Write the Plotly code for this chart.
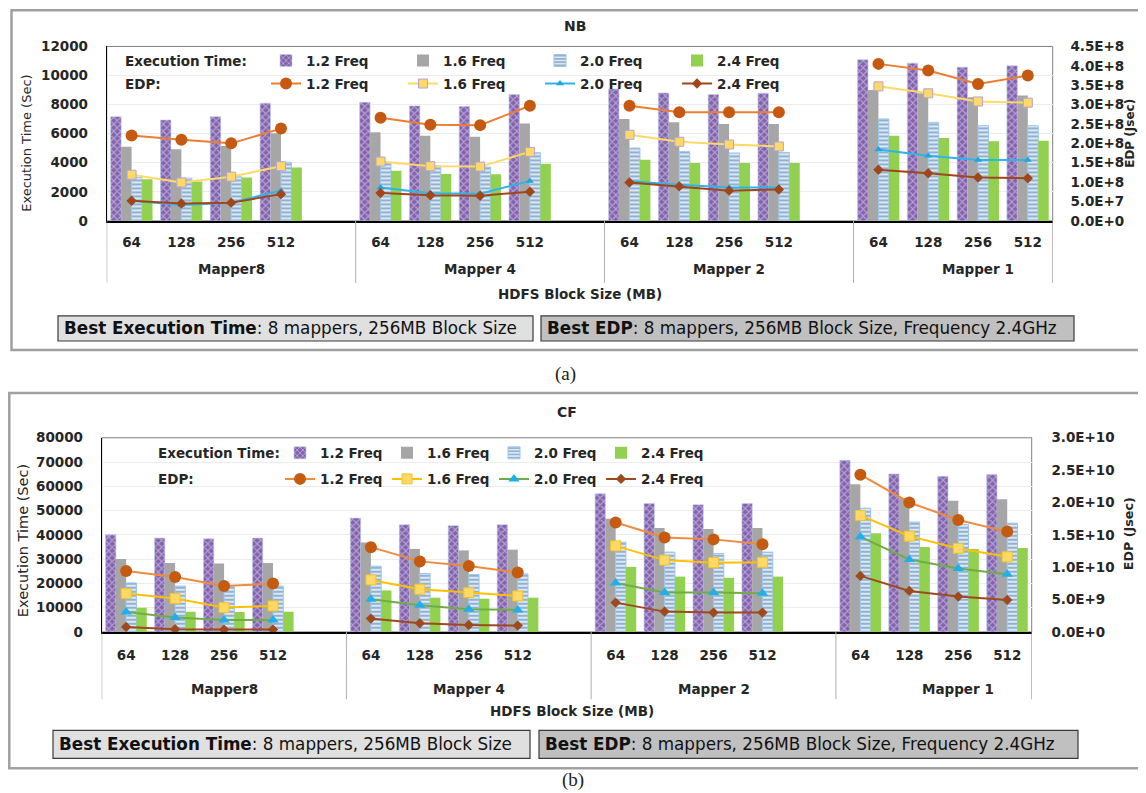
import plotly.graph_objects as go

# Measured placement of the figure in the photographed page:
# x_page = x_fig + 8 ; y_page = 15.3 + 0.979 * y_fig
PAGE_W, PAGE_H = 1146, 793
OX = 8
TY, SY = 15.3, 0.979
W = PAGE_W - 2 * OX
H = 794

groups = ["Mapper8", "Mapper 4", "Mapper 2", "Mapper 1"]
block_sizes = ["64", "128", "256", "512"]
freqs = ["1.2 Freq", "1.6 Freq", "2.0 Freq", "2.4 Freq"]

# ---- NB: execution time (sec), order = groups x block sizes ----
nb_time_12 = [7170, 6940, 7170, 8090, 8160, 7910, 7860, 8690, 9080, 8800, 8690, 8780, 11080, 10850, 10570, 10670]
nb_time_16 = [5100, 4920, 5150, 6030, 6090, 5860, 5790, 6690, 7010, 6780, 6670, 6670, 9010, 8780, 8510, 8620]
nb_time_20 = [2990, 2940, 3030, 4030, 4020, 3790, 3700, 4690, 5010, 4780, 4670, 4710, 7010, 6780, 6550, 6550]
nb_time_24 = [2870, 2710, 2990, 3680, 3450, 3220, 3200, 3930, 4200, 3980, 3980, 3980, 5860, 5700, 5470, 5520]
# ---- NB: EDP (Jsec) ----
nb_edp_12 = [2.20e8, 2.09e8, 2.00e8, 2.38e8, 2.66e8, 2.48e8, 2.47e8, 2.97e8, 2.97e8, 2.80e8, 2.80e8, 2.80e8, 4.05e8, 3.88e8, 3.53e8, 3.75e8]
nb_edp_16 = [1.19e8, 0.99e8, 1.14e8, 1.41e8, 1.53e8, 1.41e8, 1.40e8, 1.78e8, 2.22e8, 2.04e8, 1.97e8, 1.92e8, 3.47e8, 3.29e8, 3.08e8, 3.05e8]
nb_edp_20 = [0.52e8, 0.41e8, 0.47e8, 0.78e8, 0.86e8, 0.71e8, 0.70e8, 1.03e8, 1.02e8, 0.93e8, 0.86e8, 0.86e8, 1.84e8, 1.68e8, 1.57e8, 1.57e8]
nb_edp_24 = [0.52e8, 0.45e8, 0.47e8, 0.69e8, 0.72e8, 0.66e8, 0.65e8, 0.75e8, 0.99e8, 0.89e8, 0.78e8, 0.81e8, 1.32e8, 1.23e8, 1.12e8, 1.10e8]

# ---- CF: execution time (sec) ----
cf_time_12 = [40000, 38700, 38400, 38700, 46900, 44200, 43800, 44200, 56900, 52900, 52400, 52900, 70700, 65100, 64100, 64900]
cf_time_16 = [30100, 28400, 28200, 28400, 36900, 34200, 33600, 33900, 46600, 42800, 42400, 42800, 60800, 55100, 54000, 54700]
cf_time_20 = [20200, 18900, 18600, 18900, 27100, 24100, 23700, 23900, 37000, 32900, 32300, 32900, 51000, 45300, 44200, 44800]
cf_time_24 = [10000, 8340, 8200, 8340, 17100, 14100, 13700, 14100, 26800, 22800, 22300, 22800, 40700, 35000, 34200, 34600]
# ---- CF: EDP (Jsec) ----
cf_edp_12 = [9.43e9, 8.5e9, 7.1e9, 7.47e9, 13.1e9, 10.9e9, 10.2e9, 9.17e9, 16.9e9, 14.6e9, 14.3e9, 13.55e9, 24.3e9, 20.0e9, 17.3e9, 15.5e9]
cf_edp_16 = [5.92e9, 5.15e9, 3.76e9, 4.02e9, 8.04e9, 6.6e9, 6.08e9, 5.56e9, 13.3e9, 11.1e9, 10.7e9, 10.75e9, 18.0e9, 14.8e9, 12.9e9, 11.6e9]
cf_edp_20 = [3.09e9, 2.22e9, 1.85e9, 1.85e9, 5.05e9, 4.12e9, 3.5e9, 3.4e9, 7.57e9, 6.08e9, 6.08e9, 5.98e9, 14.7e9, 11.2e9, 9.8e9, 8.9e9]
cf_edp_24 = [0.77e9, 0.41e9, 0.36e9, 0.36e9, 2.06e9, 1.34e9, 1.08e9, 0.98e9, 4.53e9, 3.14e9, 2.99e9, 2.99e9, 8.66e9, 6.34e9, 5.46e9, 4.95e9]

# ---- axis tick labels ----
nb_time_ticks = [0, 2000, 4000, 6000, 8000, 10000, 12000]
cf_time_ticks = [0, 10000, 20000, 30000, 40000, 50000, 60000, 70000, 80000]
nb_edp_tickvals = [0, 0.5e8, 1.0e8, 1.5e8, 2.0e8, 2.5e8, 3.0e8, 3.5e8, 4.0e8, 4.5e8]
nb_edp_ticktext = ["0.0E+0", "5.0E+7", "1.0E+8", "1.5E+8", "2.0E+8", "2.5E+8", "3.0E+8", "3.5E+8", "4.0E+8", "4.5E+8"]
cf_edp_tickvals = [0, 0.5e10, 1.0e10, 1.5e10, 2.0e10, 2.5e10, 3.0e10]
cf_edp_ticktext = ["0.0E+0", "5.0E+9", "1.0E+10", "1.5E+10", "2.0E+10", "2.5E+10", "3.0E+10"]

FONT = "DejaVu Sans"
SLOTS = 5  # 4 block sizes + one empty slot per mapper group


def px(x):
    return (x - OX) / W


def py(y):
    return 1 - ((y - TY) / SY) / H


def slot_x(i):
    return (i // len(block_sizes)) * SLOTS + i % len(block_sizes)


n = len(groups) * len(block_sizes)
bar_x = [slot_x(i) for i in range(n)]
x_range = [-0.5, len(groups) * SLOTS - 1.5]


def with_gaps(vals):
    xs, ys = [], []
    for i, v in enumerate(vals):
        xs.append(slot_x(i))
        ys.append(v)
        if i % len(block_sizes) == len(block_sizes) - 1 and i < n - 1:
            xs.append(slot_x(i) + 1)
            ys.append(None)
    return xs, ys


bar_styles = [
    dict(color="#8262ae", line=dict(color="#b9c9e6", width=0.6),
         pattern=dict(shape="x", fgcolor="#ece4f6", size=5, solidity=0.4, fillmode="overlay")),
    dict(color="#a6a6a6", line=dict(width=0)),
    dict(color="#f4f9fd", line=dict(color="#9cc6e8", width=1),
         pattern=dict(shape="-", fgcolor="#2e6aab", size=4, solidity=0.62, fillmode="overlay")),
    dict(color="#92d050", line=dict(width=0)),
]

top_line_styles = [
    dict(line=dict(color="#ed7d31", width=2), marker=dict(symbol="circle", size=12, color="#c65911")),
    dict(line=dict(color="#ffd966", width=2), marker=dict(symbol="square", size=9, color="#ffd966", line=dict(color="#b6a2d6", width=1))),
    dict(line=dict(color="#2fb4ea", width=2), marker=dict(symbol="triangle-up", size=7, color="#1fa6df")),
    dict(line=dict(color="#a0461a", width=2), marker=dict(symbol="diamond", size=8, color="#a0461a")),
]
bot_line_styles = [
    dict(line=dict(color="#f08a3c", width=2), marker=dict(symbol="circle", size=12, color="#c55a11")),
    dict(line=dict(color="#ffc000", width=2), marker=dict(symbol="square", size=10, color="#ffd966", line=dict(color="#f2c230", width=1))),
    dict(line=dict(color="#70ad47", width=2), marker=dict(symbol="triangle-up", size=10, color="#1fb0ec")),
    dict(line=dict(color="#9e4a1e", width=2), marker=dict(symbol="diamond", size=8, color="#9e4a1e")),
]

panels = [
    dict(title="NB", xa="x", ya="y", ya2="y2", times=[nb_time_12, nb_time_16, nb_time_20, nb_time_24],
         edps=[nb_edp_12, nb_edp_16, nb_edp_20, nb_edp_24], lb="legend", ll="legend2", ls=top_line_styles),
    dict(title="CF", xa="x2", ya="y3", ya2="y4", times=[cf_time_12, cf_time_16, cf_time_20, cf_time_24],
         edps=[cf_edp_12, cf_edp_16, cf_edp_20, cf_edp_24], lb="legend3", ll="legend4", ls=bot_line_styles),
]

fig = go.Figure()
for p in panels:
    for k, f in enumerate(freqs):
        fig.add_trace(go.Bar(x=bar_x, y=p["times"][k], name=f, marker=bar_styles[k],
                             xaxis=p["xa"], yaxis=p["ya"], legend=p["lb"], offsetgroup=str(k),
                             hoverinfo="skip"))
    for k, f in enumerate(freqs):
        xs, ys = with_gaps(p["edps"][k])
        fig.add_trace(go.Scatter(x=xs, y=ys, name=f, mode="lines+markers", connectgaps=False,
                                 line=p["ls"][k]["line"], marker=p["ls"][k]["marker"],
                                 xaxis=p["xa"], yaxis=p["ya2"], legend=p["ll"], hoverinfo="skip"))

# geometry (page pixels)
top = dict(l=106.7, r=1052.7, t=45.7, b=220, sep_b=282, grp_y=268, xt_y=293)
bot = dict(l=101.7, r=1031.7, t=436.7, b=630.7, sep_b=698, grp_y=688, xt_y=710)

tickfont = dict(family=FONT, size=13.5, color="#262626", weight="bold")
xcommon = dict(range=x_range, tickvals=bar_x, ticktext=block_sizes * len(groups), tickfont=tickfont,
               ticks="outside", tickcolor="rgba(0,0,0,0)", showline=True, linecolor="black",
               linewidth=1.8, showgrid=False, zeroline=False, fixedrange=True)
fig.update_layout(
    width=W, height=H, margin=dict(l=0, r=0, t=0, b=0),
    paper_bgcolor="white", plot_bgcolor="white",
    font=dict(family=FONT, color="#262626"),
    barmode="group", bargap=0.16, bargroupgap=0,
    xaxis=dict(domain=[px(top["l"]), px(top["r"])], anchor="y", ticklen=8, **xcommon),
    xaxis2=dict(domain=[px(bot["l"]), px(bot["r"])], anchor="y3", ticklen=10, **xcommon),
    yaxis=dict(domain=[py(top["b"]), py(top["t"])], anchor="x", range=[0, 12000], tickvals=nb_time_ticks,
               tickformat="d", tickfont=tickfont, ticks="outside", ticklen=15, tickcolor="rgba(0,0,0,0)",
               showline=True, linecolor="black", linewidth=1, gridcolor="#ececec", zeroline=False),
    yaxis2=dict(overlaying="y", side="right", anchor="x", range=[0, 4.5e8], tickvals=nb_edp_tickvals,
                ticktext=nb_edp_ticktext, tickfont=tickfont, ticks="outside", ticklen=14,
                tickcolor="rgba(0,0,0,0)", showgrid=False, zeroline=False, showline=False),
    yaxis3=dict(domain=[py(bot["b"]), py(bot["t"])], anchor="x2", range=[0, 80000], tickvals=cf_time_ticks,
                tickformat="d", tickfont=tickfont, ticks="outside", ticklen=15, tickcolor="rgba(0,0,0,0)",
                showline=True, linecolor="black", linewidth=1, gridcolor="#ececec", zeroline=False),
    yaxis4=dict(overlaying="y3", side="right", anchor="x2", range=[0, 3.0e10], tickvals=cf_edp_tickvals,
                ticktext=cf_edp_ticktext, tickfont=tickfont, ticks="outside", ticklen=16,
                tickcolor="rgba(0,0,0,0)", showgrid=False, zeroline=False, showline=False),
)

legfont = dict(family=FONT, size=13.5, color="#262626", weight="bold")
legcommon = dict(orientation="h", xanchor="left", yanchor="middle", bgcolor="rgba(0,0,0,0)",
                 font=legfont, itemwidth=30, traceorder="normal", itemclick=False, itemdoubleclick=False)
fig.update_layout(
    legend=dict(x=px(266), y=py(60), entrywidth=92, **legcommon),
    legend2=dict(x=px(266), y=py(83), entrywidth=92, **legcommon),
    legend3=dict(x=px(280), y=py(452), entrywidth=62, **legcommon),
    legend4=dict(x=px(280), y=py(478), entrywidth=62, **legcommon),
)

shapes = []
annotations = []
# panel frames
shapes.append(dict(type="rect", xref="paper", yref="paper", x0=px(11.5), x1=px(1160), y0=py(349), y1=py(9.5),
                   line=dict(color="#a0a0a0", width=2.5)))
shapes.append(dict(type="rect", xref="paper", yref="paper", x0=px(9.3), x1=px(1160), y0=py(767), y1=py(392),
                   line=dict(color="#a0a0a0", width=2.5)))

for p, g in zip(panels, [top, bot]):
    xa = p["xa"]
    xd = "x domain" if xa == "x" else "x2 domain"
    yd = "y domain" if p["ya"] == "y" else "y3 domain"
    # plot area frame
    shapes.append(dict(type="rect", xref=xd, yref=yd, x0=0, x1=1, y0=0, y1=1,
                       line=dict(color="#7f7f7f", width=1), layer="below"))
    # multi-level category separators
    for gi in range(len(groups) + 1):
        sx = min(gi * SLOTS - 0.5, x_range[1])
        shapes.append(dict(type="line", xref=xa, yref="paper", x0=sx, x1=sx,
                           y0=py(g["sep_b"]), y1=py(g["b"]),
                           line=dict(color="#8c8c8c" if gi in (0, len(groups)) else "#b0b0b0", width=1)))
    # group labels
    for gi, name in enumerate(groups):
        annotations.append(dict(text=name, xref=xa, yref="paper", x=gi * SLOTS + 2, y=py(g["grp_y"]),
                                showarrow=False, xanchor="center", yanchor="middle", font=legfont))
    # legend row captions
    lx = 125 if xa == "x" else 158
    r1 = 60 if xa == "x" else 452
    r2 = 83 if xa == "x" else 478
    annotations.append(dict(text="Execution Time:", xref="paper", yref="paper", x=px(lx - 2), y=py(r1),
                            showarrow=False, xanchor="left", yanchor="middle", font=legfont))
    annotations.append(dict(text="EDP:", xref="paper", yref="paper", x=px(lx - 2), y=py(r2),
                            showarrow=False, xanchor="left", yanchor="middle", font=legfont))

# titles / axis titles
extra = [
    dict(text="NB", x=px(575), y=py(25), font=dict(family=FONT, size=14, weight="bold", color="#262626")),
    dict(text="CF", x=px(567), y=py(411), font=dict(family=FONT, size=14, weight="bold", color="#262626")),
    dict(text="Execution Time (Sec)", x=px(27), y=py(143), textangle=-90,
         font=dict(family=FONT, size=13, color="#262626")),
    dict(text="Execution Time (Sec)", x=px(23), y=py(540), textangle=-90,
         font=dict(family=FONT, size=14.5, color="#262626")),
    dict(text="EDP (Jsec)", x=px(1130), y=py(133), textangle=-90,
         font=dict(family=FONT, size=12, weight="bold", color="#262626")),
    dict(text="EDP (Jsec)", x=px(1128), y=py(533), textangle=-90,
         font=dict(family=FONT, size=12.7, weight="bold", color="#262626")),
    dict(text="HDFS Block Size (MB)", x=px(580), y=py(top["xt_y"]), font=legfont),
    dict(text="HDFS Block Size (MB)", x=px(572), y=py(bot["xt_y"]), font=legfont),
    dict(text="(a)", x=px(565), y=py(373), font=dict(family="Liberation Serif", size=19, color="#222")),
    dict(text="(b)", x=px(573), y=py(779), font=dict(family="Liberation Serif", size=19, color="#222")),
]
for a in extra:
    a.update(xref="paper", yref="paper", showarrow=False, xanchor="center", yanchor="middle")
annotations += extra

# "best" boxes
boxes = [
    (58, 533, 315, 340, "#e0e0e0", "<b>Best Execution Time</b>: 8 mappers, 256MB Block Size"),
    (541, 1074, 315, 340, "#c0c0c0", "<b>Best EDP</b>: 8 mappers, 256MB Block Size, Frequency 2.4GHz"),
    (53, 530, 729, 757, "#e0e0e0", "<b>Best Execution Time</b>: 8 mappers, 256MB Block Size"),
    (539, 1078, 729, 757, "#c0c0c0", "<b>Best EDP</b>: 8 mappers, 256MB Block Size, Frequency 2.4GHz"),
]
for x0, x1, y0, y1, fc, txt in boxes:
    shapes.append(dict(type="rect", xref="paper", yref="paper", x0=px(x0), x1=px(x1), y0=py(y1), y1=py(y0),
                       fillcolor=fc, line=dict(color="#3a3a3a", width=1.2)))
    annotations.append(dict(text=txt, xref="paper", yref="paper", x=px(x0 + 4), y=py((y0 + y1) / 2),
                            showarrow=False, xanchor="left", yanchor="middle",
                            font=dict(family=FONT, size=16.8, color="#111")))

fig.update_layout(shapes=shapes, annotations=annotations)
fig.write_html("out.html")
